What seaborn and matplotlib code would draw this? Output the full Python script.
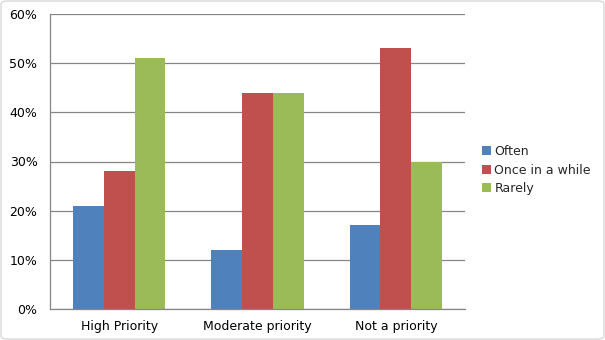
import matplotlib
matplotlib.use("Agg")
import matplotlib.pyplot as plt
import seaborn as sns
import pandas as pd
from matplotlib.ticker import PercentFormatter, FixedLocator
from matplotlib.patches import FancyBboxPatch

categories = ["High Priority", "Moderate priority", "Not a priority"]
series = ["Often", "Once in a while", "Rarely"]
often = [21, 12, 17]
once = [28, 44, 53]
rarely = [51, 44, 30]
colors = ["#4F81BD", "#C0504D", "#9BBB59"]

rows = []
for s, vals in zip(series, [often, once, rarely]):
    for c, v in zip(categories, vals):
        rows.append({"cat": c, "series": s, "val": v})
df = pd.DataFrame(rows)

sns.set_style("white")
plt.rcParams["font.family"] = ["DejaVu Sans"]

fig = plt.figure(figsize=(6.05, 3.4), dpi=100)
ax = fig.add_axes([50/605, 1 - 309/340, (465-50)/605, (309-14)/340])

sns.barplot(data=df, x="cat", y="val", hue="series", palette=colors,
            width=0.667, saturation=1, ax=ax, legend=True, edgecolor="none", linewidth=0)

ax.set_xlim(-0.5, 2.5)
ax.set_ylim(0, 60)
ax.set_yticks(range(0, 61, 10))
ax.yaxis.set_major_formatter(PercentFormatter(decimals=0))
ax.grid(axis="y", color="#868686", linewidth=0.9)
ax.set_axisbelow(True)
ax.set_xlabel("")
ax.set_ylabel("")
for sp in ["top", "right"]:
    ax.spines[sp].set_visible(False)
for sp in ["left", "bottom"]:
    ax.spines[sp].set_color("#868686")
    ax.spines[sp].set_linewidth(0.9)

ax.tick_params(axis="y", which="major", length=5, width=0.9, color="#868686",
               labelsize=9, labelcolor="#000000", pad=4)
ax.tick_params(axis="x", which="major", length=0, labelsize=9, labelcolor="#000000", pad=8)
ax.xaxis.set_minor_locator(FixedLocator([-0.5, 0.5, 1.5, 2.5]))
ax.tick_params(axis="x", which="minor", length=5, width=0.9, color="#868686")

leg = ax.legend(loc="center left", bbox_to_anchor=(482/605, 1 - 170/340),
                bbox_transform=fig.transFigure, frameon=False, fontsize=9,
                handlelength=0.75, handleheight=0.75, handletextpad=0.25,
                labelspacing=0.45, borderaxespad=0, borderpad=0)

border = FancyBboxPatch((1/605, 1/340), 603/605, 338/340,
                        boxstyle="round,pad=0,rounding_size=0.01",
                        transform=fig.transFigure, fill=False,
                        edgecolor="#D9D9D9", linewidth=1)
fig.patches.append(border)

fig.savefig("out.png", dpi=100)
